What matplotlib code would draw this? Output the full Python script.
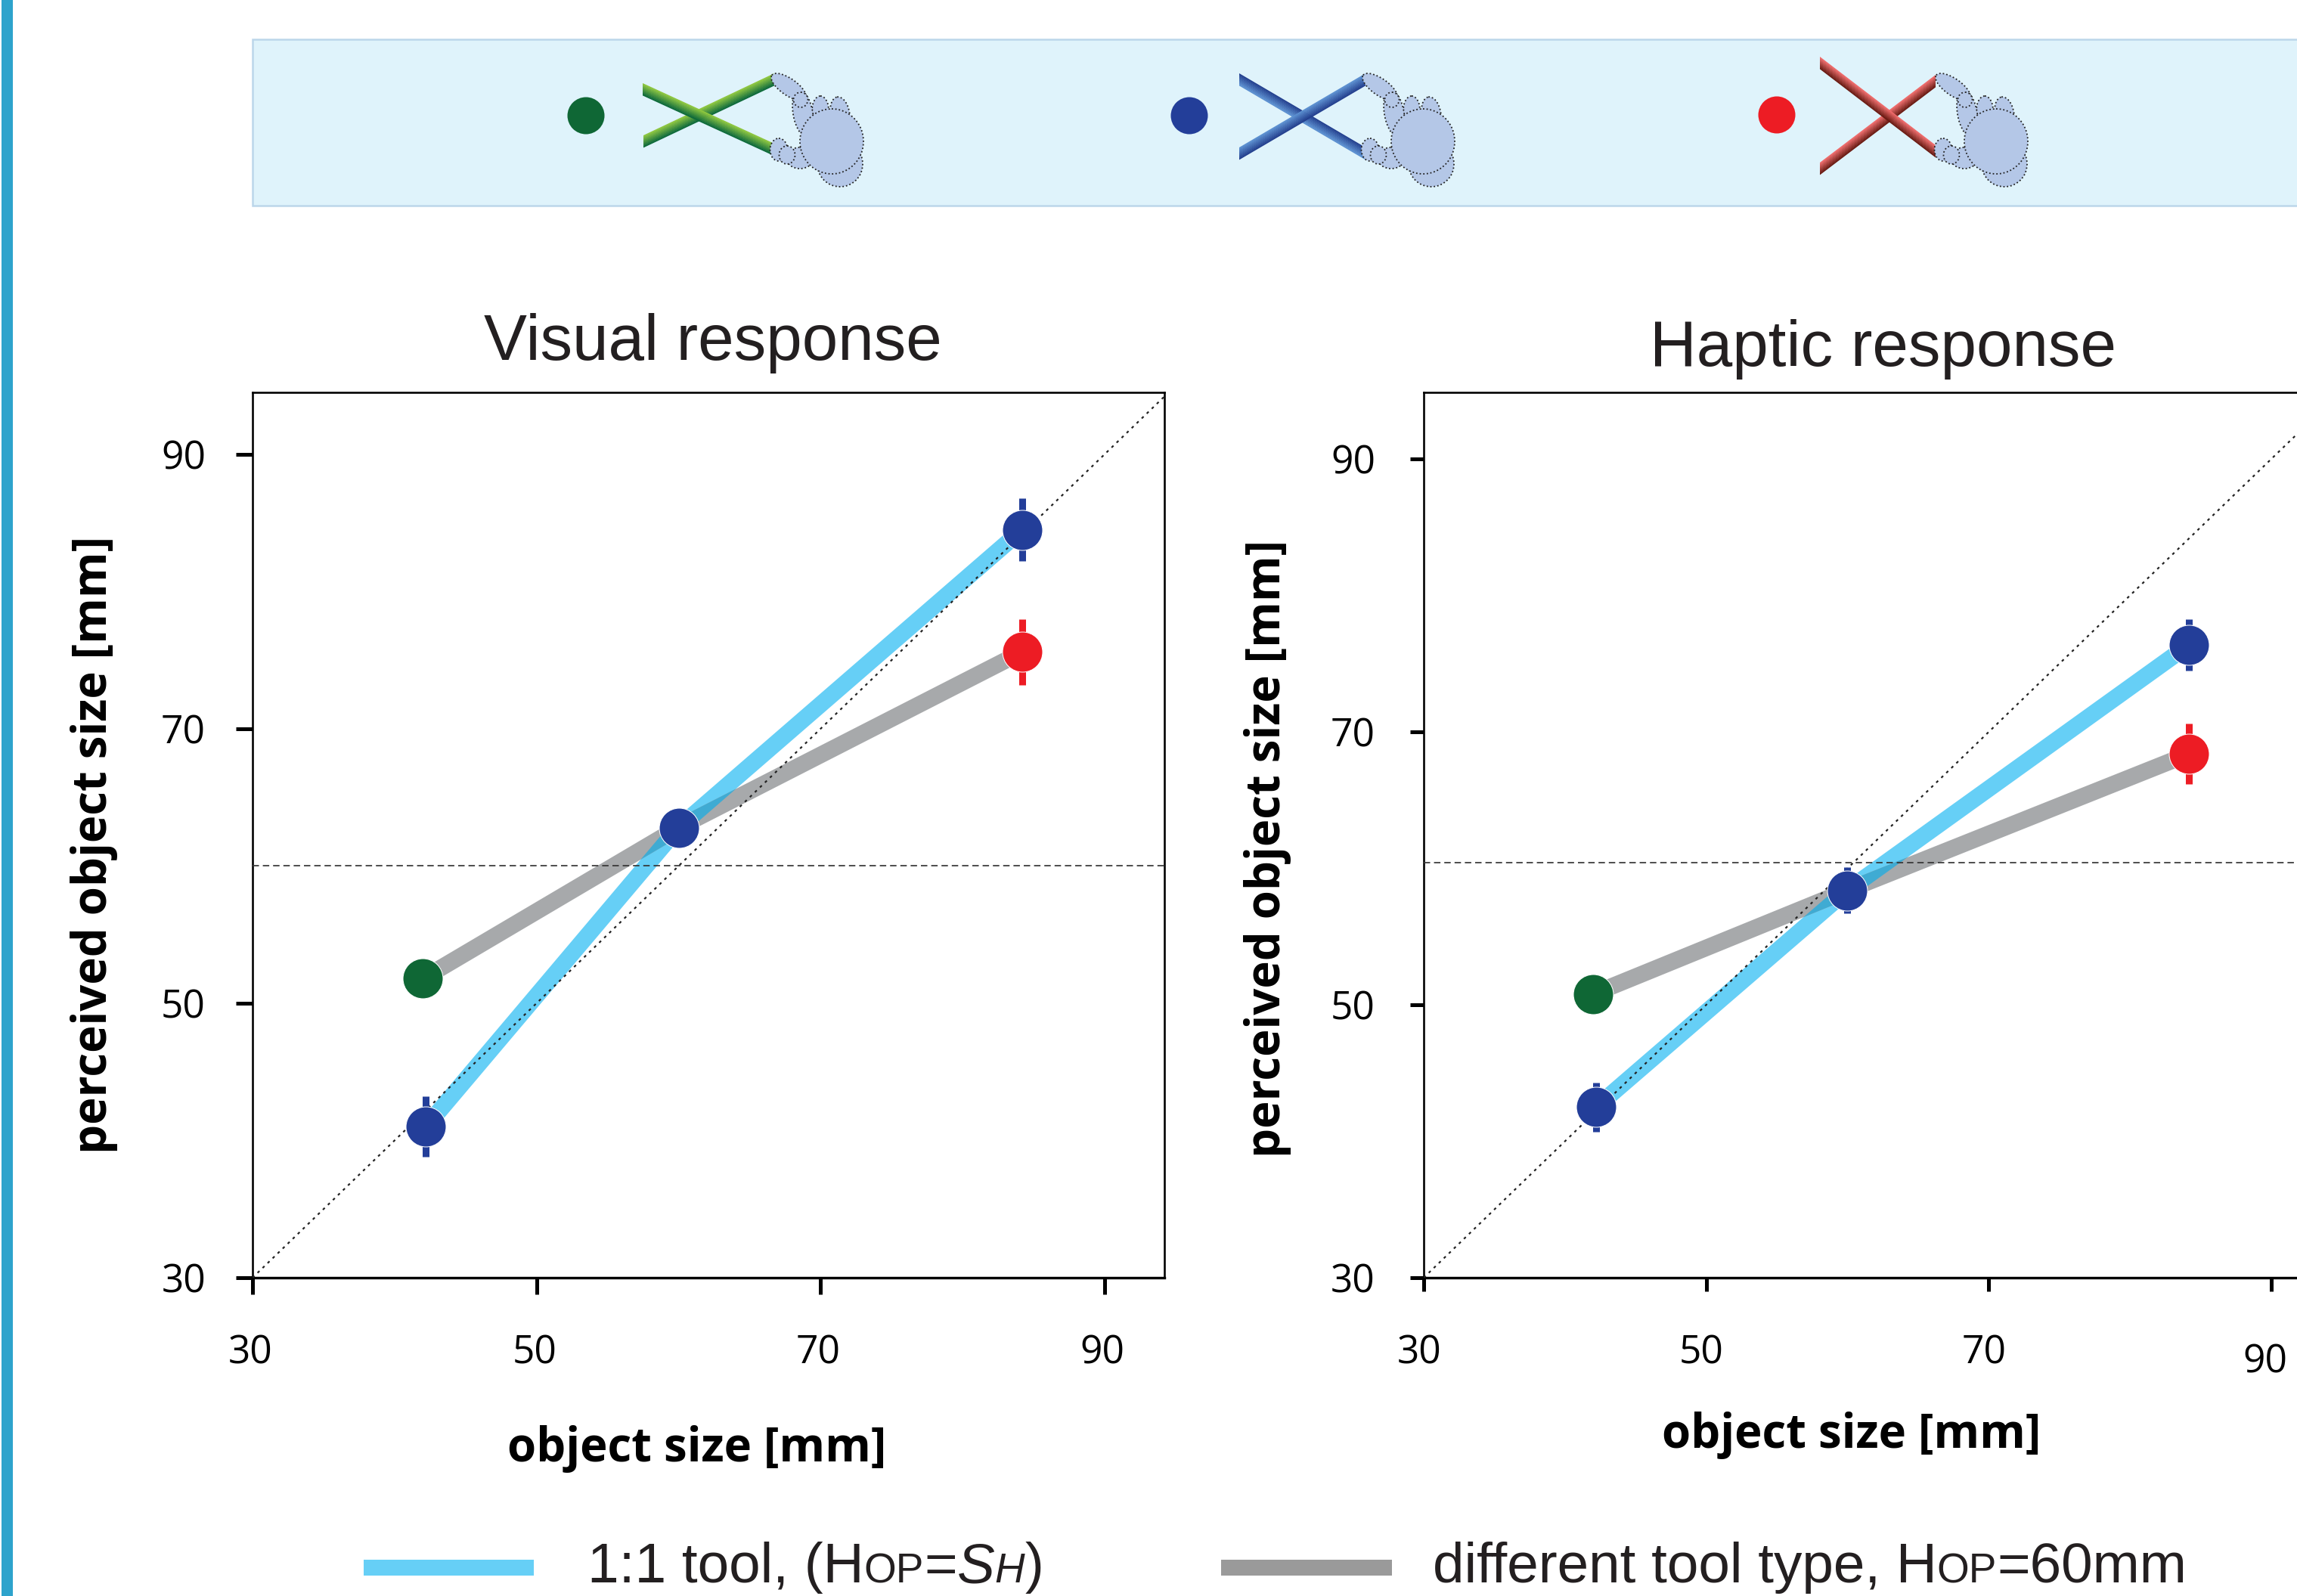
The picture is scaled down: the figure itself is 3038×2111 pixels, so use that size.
import matplotlib
matplotlib.use("Agg")
import matplotlib.pyplot as plt
import numpy as np
from matplotlib.colors import to_rgb
from matplotlib.patches import Ellipse, Polygon, Rectangle
from matplotlib.path import Path
from matplotlib.transforms import IdentityTransform, ScaledTranslation

# values
sizes_one_to_one = [42.2, 60, 84.2]
sizes_different = [42.0, 60, 84.2]

visual_one_to_one = [41.0, 62.8, 84.5]
visual_different = [51.8, 62.8, 75.6]
visual_err_blue = [2.2, 0.8, 2.27]
visual_err_red = 2.4

haptic_one_to_one = [42.5, 58.4, 76.4]
haptic_different = [50.8, 58.4, 68.4]
haptic_err_blue = [1.8, 1.7, 1.9]
haptic_err_red = 2.2

ticks = [30, 50, 70, 90]

CYAN = "#66cff6"
CYAN_DARK = "#3fabd3"
GRAY = "#a7a9ab"
BLUE = "#233e99"
RED = "#ed1c24"
GREEN = "#0f6735"

W, H = 3038, 2111
DPI = 100
PX = 72 / DPI
BAND = 22
LABEL_FONT = "Open Sans"
HEAD_FONT = "Liberation Sans"

fig = plt.figure(figsize=(W / DPI, H / DPI), dpi=DPI, facecolor="white")

# pixel canvas for the banner, side stripe and legend
bg = fig.add_axes([0, 0, 1, 1], zorder=0)
bg.set_xlim(0, W)
bg.set_ylim(H, 0)
bg.axis("off")


def add_axes_px(x0, x1, y_top, y_bottom):
    return fig.add_axes([x0 / W, 1 - y_bottom / H, (x1 - x0) / W, (y_bottom - y_top) / H], zorder=2)


def draw_tool(x0, y0, x1, y1, top, bottom, zorder, height=16, n=8):
    c0, c1 = np.array(to_rgb(top)), np.array(to_rgb(bottom))
    for i in range(n):
        a = -height / 2 + height * i / n
        b = a + height / n + 0.4
        col = c0 + (c1 - c0) * i / (n - 1)
        bg.add_patch(Polygon([(x0, y0 + a), (x1, y1 + a), (x1, y1 + b), (x0, y0 + b)],
                             closed=True, fc=col, ec="none", zorder=zorder))


def draw_hand(dx):
    parts = [
        (1111, 217, 60, 60, 0),
        (1085, 146, 22, 38, 0),
        (1111, 150, 25, 44, -10),
        (1062, 150, 26, 62, -10),
        (1058, 209, 36, 28, 0),
        (1100, 187, 84, 86, 0),
        (1043, 115, 22, 54, -55),
        (1059, 132, 19, 20, 0),
        (1030, 198, 23, 30, 0),
        (1041, 205, 21, 24, 0),
    ]
    for cx, cy, w, h, ang in parts:
        bg.add_patch(Ellipse((cx + dx, cy), w, h, angle=ang, fc="#b4c7e7", ec="#222222",
                             lw=1.3, ls=(0, (1, 1.6)), zorder=5))


def draw_runs(x, baseline, runs):
    # pieces of text set one after another, for the small capitals
    renderer = fig.canvas.get_renderer()
    for s, size, style in runs:
        t = bg.text(x, baseline, s, fontsize=size, style=style, family=HEAD_FONT,
                    color="#231f20", ha="left", va="baseline", zorder=6)
        x = t.get_window_extent(renderer).x1


# side stripe and banner
bg.add_patch(Rectangle((2, 0), 15, H, fc="#2ea3cc", ec="none"))
bg.add_patch(Rectangle((334, 52), W - 334 + 5, 220, fc="#dff3fb", ec="#bcd6ea", lw=1.8))

bg.add_patch(Ellipse((775, 153), 49, 49, fc=GREEN, ec="none", zorder=3))
draw_tool(851, 187, 1024, 105, "#8dc63f", "#0f6b3a", 3)
draw_tool(850, 118, 1022, 197, "#8dc63f", "#0f6b3a", 4)
draw_hand(0)

bg.add_patch(Ellipse((1573, 153), 49, 49, fc=BLUE, ec="none", zorder=3))
draw_tool(1639, 105, 1806, 203, "#23408f", "#5b8fd0", 3)
draw_tool(1639, 203, 1806, 105, "#5b8fd0", "#23408f", 4)
draw_hand(782)

bg.add_patch(Ellipse((2350, 152), 49, 49, fc=RED, ec="none", zorder=3))
draw_tool(2407, 223, 2560, 107, "#ef6a6a", "#6b1a12", 3)
draw_tool(2407, 83, 2560, 200, "#ef6a6a", "#6b1a12", 4)
draw_hand(1540)


def thick_polygon(ax, xs, ys, width_px):
    # outline of a thick line in display pixels
    pts = ax.transData.transform(np.column_stack([xs, ys]))
    upper, lower = [], []
    for a, b in zip(pts[:-1], pts[1:]):
        d = (b - a) / np.hypot(*(b - a))
        n = np.array([-d[1], d[0]]) * width_px / 2
        upper += [a + n, b + n]
        lower += [a - n, b - n]
    return Path(np.array(upper + lower[::-1] + [upper[0]]), closed=True)


def panel(box, xlim, ylim, one, diff, err_blue, err_red, hline, tick_len, ypad):
    ax = add_axes_px(*box)
    ax.set_xlim(*xlim)
    ax.set_ylim(*ylim)

    ax.plot(sizes_one_to_one, one, color=CYAN, lw=BAND * PX, solid_capstyle="butt",
            solid_joinstyle="round", zorder=2)
    ax.plot(sizes_different, diff, color=GRAY, lw=BAND * PX, solid_capstyle="butt",
            solid_joinstyle="round", zorder=3)
    fig.canvas.draw()
    # overlap of the two bands prints darker
    clip = thick_polygon(ax, sizes_different, diff, BAND)
    over, = ax.plot(sizes_one_to_one, one, color=CYAN_DARK, lw=BAND * PX,
                    solid_capstyle="butt", zorder=4)
    over.set_clip_path(clip, IdentityTransform())

    ax.plot([30, 100], [30, 100], color="#222222", lw=2.2 * PX, ls=(0, (1.6, 2.6)), zorder=5)
    ax.axhline(hline, color="#333333", lw=1.7 * PX, ls=(0, (5, 3)), zorder=5)

    ax.errorbar(sizes_one_to_one, one, yerr=err_blue, fmt="none", ecolor=BLUE,
                elinewidth=9 * PX, zorder=6)
    ax.errorbar(sizes_different[-1], diff[-1], yerr=err_red, fmt="none", ecolor=RED,
                elinewidth=9 * PX, zorder=6)
    ax.plot(sizes_different[0], diff[0], "o", color=GREEN, ms=53 * PX, mec="white",
            mew=1.0 * PX, zorder=7)
    ax.plot(sizes_different[-1], diff[-1], "o", color=RED, ms=53 * PX, mec="white",
            mew=1.0 * PX, zorder=7)
    ax.plot(sizes_one_to_one, one, "o", color=BLUE, ms=53 * PX, mec="white",
            mew=1.0 * PX, ls="none", zorder=7)

    ax.set_xticks(ticks)
    ax.set_yticks(ticks)
    ax.tick_params(axis="both", direction="out", length=tick_len * PX, width=5 * PX,
                   labelsize=37, color="black")
    ax.tick_params(axis="x", pad=(74 - tick_len) * PX)
    ax.tick_params(axis="y", pad=ypad * PX)
    for lab in ax.get_xticklabels() + ax.get_yticklabels():
        lab.set_family(LABEL_FONT)
    for s in ax.spines.values():
        s.set_linewidth(2.6 * PX)
    ax.spines["bottom"].set_linewidth(3.4 * PX)
    return ax


def set_axis_labels(ax, xpos, ypos):
    ax.set_xlabel("object size [mm]", fontsize=44.5, fontweight="bold", family=LABEL_FONT,
                  va="center", ha="center")
    ax.xaxis.set_label_coords(xpos[0] / W, 1 - xpos[1] / H, transform=fig.transFigure)
    ax.set_ylabel("perceived object size [mm]", fontsize=44.5, fontweight="bold",
                  family=LABEL_FONT, va="center", ha="center")
    ax.yaxis.set_label_coords(ypos[0] / W, 1 - ypos[1] / H, transform=fig.transFigure)


left = panel((334, 1540, 519, 1690), (30, 94.2), (30, 94.5), visual_one_to_one,
             visual_different, visual_err_blue, visual_err_red, 60.0, 22, 40)
right = panel((1883, W + 3, 519, 1690), (30, 92.0), (30, 94.9), haptic_one_to_one,
              haptic_different, haptic_err_blue, haptic_err_red, 60.4, 18, 46)
right.spines["right"].set_visible(False)

set_axis_labels(left, (922, 1916), (125, 1117))
set_axis_labels(right, (2449, 1899), (1677, 1122))

fig.text(943 / W, 1 - 454 / H, "Visual response", fontsize=61.5, family=HEAD_FONT,
         color="#231f20", ha="center", va="center")
fig.text(2490 / W, 1 - 462 / H, "Haptic response", fontsize=61.5, family=HEAD_FONT,
         color="#231f20", ha="center", va="center")

# the last tick label of the right panel sits lower
last = right.get_xticklabels()[-1]
last.set_transform(last.get_transform() + ScaledTranslation(-2 / DPI, -12 / DPI, fig.dpi_scale_trans))
for lab in right.get_xticklabels():
    lab.set_transform(lab.get_transform() + ScaledTranslation(-6 / DPI, 0, fig.dpi_scale_trans))
for lab in left.get_xticklabels():
    lab.set_transform(lab.get_transform() + ScaledTranslation(-3 / DPI, 0, fig.dpi_scale_trans))

# legend
bg.add_patch(Rectangle((481, 2063), 225, 21, fc=CYAN, ec="none"))
bg.add_patch(Rectangle((1615, 2063), 226, 21, fc="#9a9a9a", ec="none"))
fig.canvas.draw()
draw_runs(777, 2093, [("1:1 tool, (H", 53.8, "normal"), ("OP", 39.5, "normal"), ("=", 53.8, "normal"),
                      ("S", 53.8, "italic"), ("H", 39.5, "italic"), (")", 53.8, "normal")])
draw_runs(1895, 2093, [("different tool type, H", 53.8, "normal"), ("OP", 39.5, "normal"),
                       ("=60mm", 53.8, "normal")])

fig.savefig("out.png", dpi=DPI)
